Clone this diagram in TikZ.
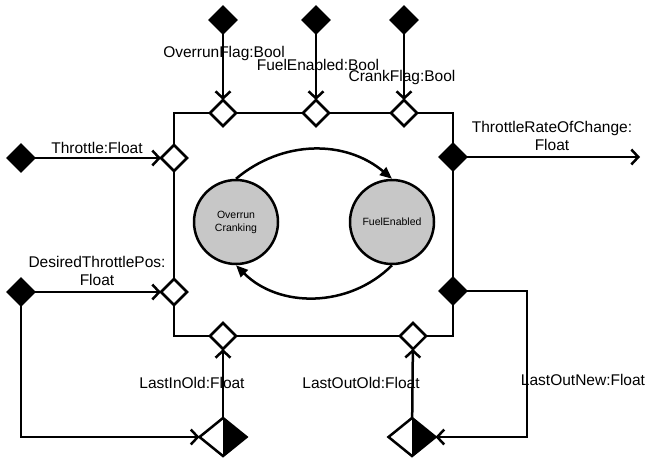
\documentclass[tikz,border=0pt]{standalone}
\usepackage{fontspec}
\setmainfont{Liberation Sans}
\usetikzlibrary{shapes.geometric,arrows.meta}

\begin{document}
\begin{tikzpicture}[x=1pt,y=-1pt,line width=2.5pt,
    port/.style={diamond,draw,fill=white,minimum width=26pt,minimum height=26pt,inner sep=0pt,outer sep=0pt},
    sport/.style={port,fill=black},
    hport/.style={port,minimum width=47pt,minimum height=38pt},
    state/.style={circle,draw,fill=black!22,minimum size=84pt,inner sep=0pt,align=center,font=\fontsize{10.5}{13}\selectfont},
    lbl/.style={align=center,font=\fontsize{15.5}{18.5}\selectfont},
    flow/.style={-{Straight Barb[length=7pt,width=15pt]}},
    trans/.style={-{Triangle[length=12pt,width=10pt]}}]

      \useasboundingbox (0,0) rectangle (647,459);

      % block
      \draw (174,113) rectangle (453,336);

      % states
      \node[state] (st_oc) at (236,222) {Overrun\\Cranking};
      \node[state] (st_fe) at (392,222) {FuelEnabled};
      \path (st_oc.north) edge[trans,bend left=40] (st_fe.north);
      \path (st_fe.south) edge[trans,bend left=45] (st_oc.south);

      % ports on the block
      \begin{scope}[every node/.style={port}]
        \node (p_of)  at (223,113) {};
        \node (p_fe)  at (316,113) {};
        \node (p_cf)  at (404,113) {};
        \node (p_thr) at (174,158) {};
        \node (p_dtp) at (174,292) {};
        \node (p_lio) at (223,336) {};
        \node (p_loo) at (413,336) {};
        \node[sport] (p_trc) at (453,157) {};
        \node[sport] (p_lon) at (453,291) {};
      \end{scope}

      % sources
      \begin{scope}[every node/.style={sport}]
        \node (s_of)  at (223,20) {};
        \node (s_fe)  at (316,20) {};
        \node (s_cf)  at (404,20) {};
        \node (s_thr) at (21,158) {};
        \node (s_dtp) at (21,292) {};
      \end{scope}

      % delays
      \node[hport] (h_lio) at (223,437) {};
      \node[hport] (h_loo) at (412,437) {};
      \fill (h_lio.north) -- (h_lio.east) -- (h_lio.south) -- cycle;
      \fill (h_loo.north) -- (h_loo.east) -- (h_loo.south) -- cycle;

      \coordinate (trc_end)  at (640,157);
      \coordinate (lon_turn) at (527,291);

      % flows
      \begin{scope}[every edge/.style={draw,flow}]
        \path (s_of)  edge (p_of);
        \path (s_fe)  edge (p_fe);
        \path (s_cf)  edge (p_cf);
        \path (s_thr) edge (p_thr);
        \path (s_dtp) edge (p_dtp);
        \path (h_lio) edge (p_lio);
        \path (h_loo) edge (p_loo);
        \path (p_trc) edge (trc_end);
      \end{scope}
      \draw[flow] (s_dtp.south) |- (h_lio.west);
      \draw[flow] (p_lon.east) -- (lon_turn) |- (h_loo.east);

      % labels
      \begin{scope}[every node/.style={lbl}]
        \node (l_of)  at (224,53)  {OverrunFlag:Bool};
        \node (l_fe)  at (318,65)  {FuelEnabled:Bool};
        \node (l_cf)  at (402,77)  {CrankFlag:Bool};
        \node (l_thr) at (97,148)  {Throttle:Float};
        \node (l_dtp) at (97,271)  {DesiredThrottlePos:\\Float};
        \node (l_trc) at (552,136) {ThrottleRateOfChange:\\Float};
        \node (l_lio) at (192,383) {LastInOld:Float};
        \node (l_loo) at (361,383) {LastOutOld:Float};
        \node (l_lon) at (583,380) {LastOutNew:Float};
      \end{scope}

    \end{tikzpicture}
\end{document}
